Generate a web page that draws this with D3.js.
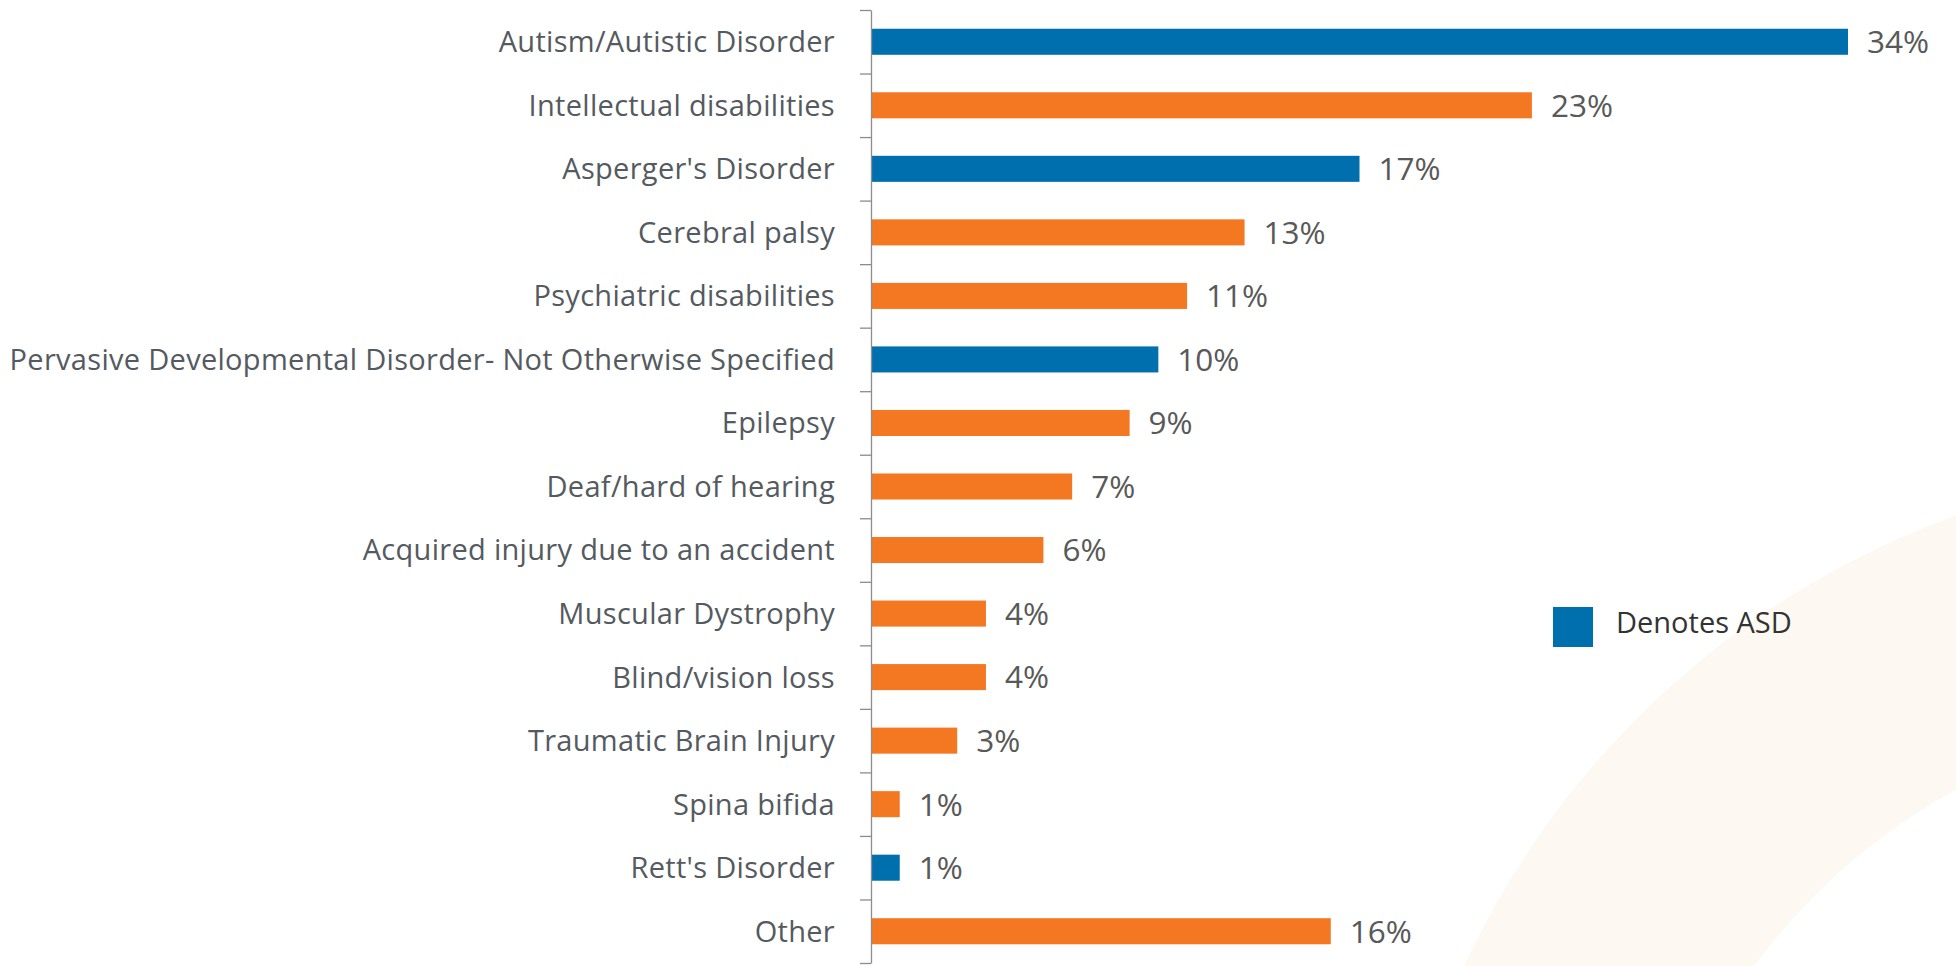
<!DOCTYPE html>
<meta charset="utf-8">
<style>
body { margin: 0; background: #fff; }
.cat text { font-family: "Open Sans", sans-serif; font-size: 29px; letter-spacing: 0.3px; fill: #545a60; }
.val { font-family: "Open Sans", sans-serif; font-size: 31.5px; fill: #595959; }
.legend text { font-family: "Open Sans", sans-serif; font-size: 29px; fill: #333; }
</style>
<body>
<script src="https://d3js.org/d3.v7.min.js"></script>
<script>

// data
var categories = ["Autism/Autistic Disorder", "Intellectual disabilities", "Asperger's Disorder",
  "Cerebral palsy", "Psychiatric disabilities", "Pervasive Developmental Disorder- Not Otherwise Specified",
  "Epilepsy", "Deaf/hard of hearing", "Acquired injury due to an accident", "Muscular Dystrophy",
  "Blind/vision loss", "Traumatic Brain Injury", "Spina bifida", "Rett's Disorder", "Other"];
var values = [34, 23, 17, 13, 11, 10, 9, 7, 6, 4, 4, 3, 1, 1, 16];
var isASD = [true, false, true, false, false, true, false, false, false, false, false, false, false, true, false];
var legendLabel = "Denotes ASD";

var blue = "#006fae", orange = "#f47722";

var W = 1956, H = 966;
var x0 = 871, yTop = 10, yBottom = 963;

var svg = d3.select("body").append("svg")
  .attr("width", W)
  .attr("height", H);

// faint background ring
svg.append("path")
  .attr("transform", "translate(2250,1330)")
  .attr("d", d3.arc()({innerRadius: 615, outerRadius: 866, startAngle: 0, endAngle: 2 * Math.PI}))
  .attr("fill", "#fdf9f2");

// scales
var x = d3.scaleLinear().domain([0, 34]).range([x0, 1848]);
var y = d3.scaleBand().domain(categories).range([yTop, yBottom]).paddingInner(0.59).paddingOuter(0.295);
var yTicks = d3.scaleLinear().domain([0, categories.length]).range([yTop, yBottom]);

// bars
svg.selectAll(".bar")
  .data(categories)
  .enter().append("rect")
  .attr("class", "bar")
  .attr("x", x(0))
  .attr("y", function(d) { return y(d); })
  .attr("width", function(d, i) { return x(values[i]) - x(0); })
  .attr("height", y.bandwidth())
  .attr("fill", function(d, i) { return isASD[i] ? blue : orange; });

// value labels
svg.selectAll(".val")
  .data(categories)
  .enter().append("text")
  .attr("class", "val")
  .attr("x", function(d, i) { return x(values[i]) + 19; })
  .attr("y", function(d) { return y(d) + y.bandwidth() / 2; })
  .attr("dy", "0.36em")
  .text(function(d, i) { return values[i] + "%"; });

// category labels
var ax = svg.append("g")
  .attr("class", "cat")
  .attr("transform", "translate(" + x0 + ",0)")
  .call(d3.axisLeft(y).tickSize(0).tickPadding(36));
ax.select(".domain").remove();
ax.selectAll("text").attr("dy", "0.36em");

// axis line with ticks between categories
var ax2 = svg.append("g")
  .attr("transform", "translate(" + x0 + ",0)")
  .call(d3.axisLeft(yTicks).tickValues(d3.range(categories.length + 1)).tickFormat("").tickSize(11).tickSizeOuter(0));
ax2.selectAll("line, path").attr("stroke", "#8c8c8c").attr("stroke-width", 1.3);

// legend
var lg = svg.append("g").attr("class", "legend").attr("transform", "translate(1553,607)");
lg.append("rect").attr("width", 40).attr("height", 40).attr("fill", blue);
lg.append("text").attr("x", 63).attr("y", 26).text(legendLabel);

</script>
</body>
